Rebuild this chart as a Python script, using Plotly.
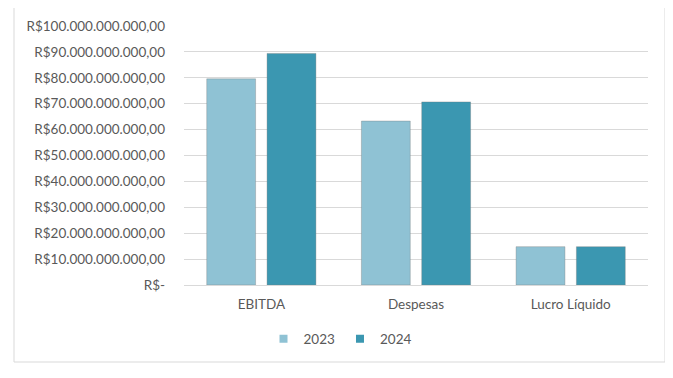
import plotly.graph_objects as go

categories = ["EBITDA", "Despesas", "Lucro Líquido"]
series_names = ["2023", "2024"]
values_2023 = [79.6e9, 63.3e9, 14.8e9]
values_2024 = [89.4e9, 70.7e9, 14.8e9]
tick_values = [i * 10e9 for i in range(11)]
tick_labels = ["R$-"] + ["R$%d.000.000.000,00" % (i * 10) for i in range(1, 11)]

colors = ["#8fc2d4", "#3b97b1"]
font_family = "Lato, 'Open Sans', sans-serif"

fig = go.Figure()
for name, vals, col in zip(series_names, [values_2023, values_2024], colors):
    fig.add_trace(go.Bar(
        x=categories, y=vals, name=name, showlegend=False,
        marker=dict(color=col, line=dict(color="rgba(120,120,120,0.35)", width=1)),
    ))
# legend entries with small square symbols
for name, col in zip(series_names, colors):
    fig.add_trace(go.Scatter(
        x=[None], y=[None], name=name, mode="markers",
        marker=dict(symbol="square", size=8, color=col),
    ))

# the page body has an 8px margin; work in page pixels and offset
OFF = 8
W, H = 673 - OFF, 378 - OFF
L, R, T, B = 184 - OFF, 673 - 648, 26 - OFF, 378 - 285
pw, ph = W - L - R, H - T - B

def px_to_paper_x(x):
    return (x - OFF - L) / pw

def py_to_paper_y(y):
    return (H - B - (y - OFF)) / ph

fig.update_layout(
    width=W, height=H,
    margin=dict(l=L, r=R, t=T, b=B, autoexpand=False),
    paper_bgcolor="white", plot_bgcolor="white",
    barmode="group", bargap=0.22, bargroupgap=0.19,
    font=dict(family=font_family, size=13.5, color="#595959"),
    showlegend=True,
    legend=dict(orientation="h", x=px_to_paper_x(340), xanchor="center",
                y=py_to_paper_y(339), yanchor="middle",
                font=dict(size=13.5, color="#595959"),
                itemwidth=30, traceorder="normal"),
    xaxis=dict(showgrid=False, showline=True, linecolor="#d9d9d9", linewidth=1,
               ticks="", ticklabelstandoff=7,
               tickfont=dict(size=13.5, color="#595959")),
    yaxis=dict(range=[0, 100e9], tickvals=tick_values, ticktext=tick_labels,
               showgrid=True, gridcolor="#d9d9d9", gridwidth=1,
               zeroline=False, showline=False, ticks="",
               ticklabelstandoff=18,
               tickfont=dict(size=13.5, color="#595959")),
    shapes=[dict(type="rect", xref="paper", yref="paper",
                 x0=px_to_paper_x(14), x1=px_to_paper_x(665),
                 y0=py_to_paper_y(362), y1=py_to_paper_y(7),
                 line=dict(color="#d9d9d9", width=1), layer="below")],
)

fig.write_html("out.html")
